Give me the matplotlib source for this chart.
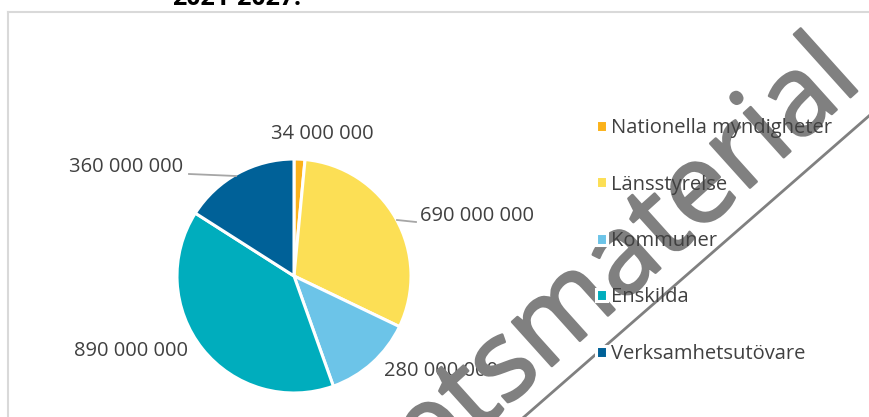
import matplotlib
matplotlib.use("Agg")
import matplotlib.pyplot as plt
from matplotlib.lines import Line2D
import matplotlib.patheffects as pe

# data
categories = ["Nationella myndigheter", "Länsstyrelse", "Kommuner",
              "Enskilda", "Verksamhetsutövare"]
amounts = [34000000, 690000000, 280000000, 890000000, 360000000]
value_labels = ["34 000 000", "690 000 000", "280 000 000",
                "890 000 000", "360 000 000"]
colors = ["#FBB21A", "#FCDF55", "#6CC4E8", "#00ADBD", "#006198"]

W, H = 870, 417
plt.rcParams['font.family'] = ['Open Sans', 'DejaVu Sans']
fig = plt.figure(figsize=(W / 100, H / 100), dpi=100)

textcol = "#404040"

# chart frame (left and top edges visible)
fig.add_artist(Line2D([8.5 / W, 8.5 / W], [0, 1 - 11.5 / H],
                      transform=fig.transFigure, color="#d9d9d9", lw=1.5))
fig.add_artist(Line2D([8.5 / W, 1], [1 - 11.5 / H, 1 - 11.5 / H],
                      transform=fig.transFigure, color="#d9d9d9", lw=1.5))

# cut off title
fig.text(237 / W, 1 - 5 / H, "2021-2027.", ha="center", va="baseline",
         fontsize=18, fontweight="bold", color="#000000")

# pie
cx, cy, r = 294, 276, 117
ax = fig.add_axes([(cx - r) / W, (H - cy - r) / H, 2 * r / W, 2 * r / H])
wedges, _ = ax.pie(amounts, colors=colors, startangle=90, counterclock=False,
                   radius=1, wedgeprops=dict(edgecolor="white", linewidth=2.2))
ax.set_xlim(-1, 1)
ax.set_ylim(-1, 1)
ax.set_aspect("equal")
ax.axis("off")

# value labels (pixel positions -> data units)
def d(px, py):
    return (px - cx) / r, (cy - py) / r

label_pos = [
    (d(322, 134), "center"),
    (d(420, 216), "left"),
    (d(384, 371), "left"),
    (d(188, 351), "right"),
    (d(183, 167), "right"),
]
for (pos, ha), txt in zip(label_pos, value_labels):
    ax.text(pos[0], pos[1], txt, ha=ha, va="center", fontsize=14.5,
            color=textcol, clip_on=False)

# leader lines
for (x0, y0), (x1, y1) in [((397, 220), (416, 222)), ((189, 174), (236, 176))]:
    p0, p1 = d(x0, y0), d(x1, y1)
    ax.plot([p0[0], p1[0]], [p0[1], p1[1]], color="#a6a6a6", lw=1.3,
            clip_on=False)

# legend
leg = fig.legend(wedges, categories, loc="upper left",
                 bbox_to_anchor=(586 / W, 1 - 108 / H), frameon=False,
                 fontsize=14.5, labelcolor=textcol, handlelength=0.55,
                 handleheight=0.55, handletextpad=0.2, labelspacing=1.81,
                 borderpad=0)
leg.set_zorder(10)

# watermark
wm = fig.text(864 / W, 1 - 85 / H, "Arbetsmaterial", ha="right",
              va="baseline", rotation=42, rotation_mode="anchor",
              fontsize=80, color="#808080", zorder=2)
wm.set_path_effects([pe.withStroke(linewidth=1.8, foreground="#808080")])
fig.add_artist(Line2D([524 / W, 1], [1 - 417 / H, 1 - 115 / H],
                      transform=fig.transFigure, color="#808080", lw=2,
                      zorder=2))

fig.savefig("out.png", dpi=100)
